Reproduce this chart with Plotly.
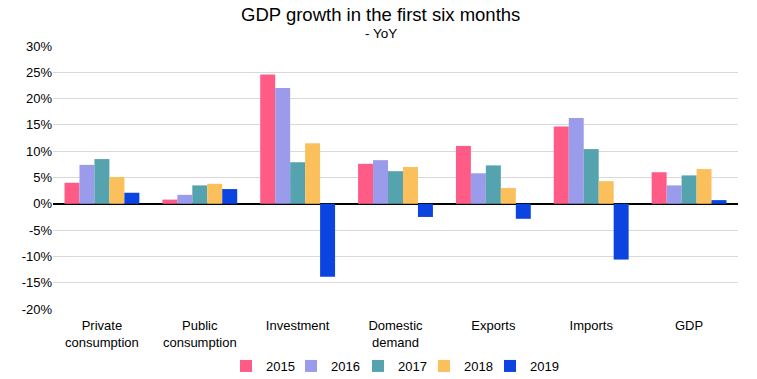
import plotly.graph_objects as go

categories = ["Private<br>consumption", "Public<br>consumption", "Investment",
              "Domestic<br>demand", "Exports", "Imports", "GDP"]
years = ["2015", "2016", "2017", "2018", "2019"]
v2015 = [4.0, 0.8, 24.6, 7.6, 11.0, 14.7, 6.0]
v2016 = [7.4, 1.7, 22.0, 8.3, 5.8, 16.3, 3.5]
v2017 = [8.5, 3.5, 7.9, 6.2, 7.3, 10.4, 5.4]
v2018 = [5.1, 3.8, 11.5, 7.0, 3.0, 4.3, 6.6]
v2019 = [2.1, 2.8, -13.85, -2.5, -2.85, -10.6, 0.7]
series = [v2015, v2016, v2017, v2018, v2019]
colors = ["#FF5B87", "#9B9BEB", "#55A3AE", "#FBBF5B", "#0B44E0"]
tickvals = [-20, -15, -10, -5, 0, 5, 10, 15, 20, 25, 30]
ticktext = [f"{t}%" for t in tickvals]

FONT = "Liberation Sans, Arial, sans-serif"
W, H = 757, 379
ML, MR, MT, MB = 53, 19, 46, 70
PH = H - MT - MB
PW = W - ML - MR


def py(pix):
    """pixel y from top of figure -> paper coordinate"""
    return 1 + (MT - pix) / PH


def px(pix):
    return (pix - ML) / PW


legend_lefts = [226, 291, 358, 424, 490]
legend_names = ["legend", "legend2", "legend3", "legend4", "legend5"]

fig = go.Figure()
for y, vals, c, ln in zip(years, series, colors, legend_names):
    fig.add_trace(go.Bar(name=y, x=categories, y=vals, marker_color=c,
                         marker_line_width=0, legend=ln))

layout_legends = {}
for ln, lx in zip(legend_names, legend_lefts):
    layout_legends[ln] = dict(
        orientation="h", x=lx / W, xref="container", xanchor="left",
        y=1 - 366 / H, yref="container", yanchor="middle",
        font=dict(size=13), itemwidth=30, bgcolor="rgba(0,0,0,0)")

fig.update_layout(
    width=W, height=H,
    margin=dict(l=ML, r=MR, t=MT, b=MB, autoexpand=False),
    paper_bgcolor="white", plot_bgcolor="white",
    barmode="group", bargap=0.235, bargroupgap=0,
    font=dict(family=FONT, size=13, color="#000000"),
    showlegend=True,
    annotations=[
        dict(text="GDP growth in the first six months", x=px(380.5), xref="paper",
             xanchor="center", y=py(14.8), yref="paper", yanchor="middle",
             showarrow=False, font=dict(size=18.5)),
        dict(text="- YoY", x=px(380.5), xref="paper", xanchor="center",
             y=py(33.3), yref="paper", yanchor="middle",
             showarrow=False, font=dict(size=13.5)),
    ],
    **layout_legends,
)

fig.update_yaxes(range=[-20, 30], tickvals=tickvals, ticktext=ticktext,
                 showgrid=True, gridcolor="#D9D9D9", gridwidth=1,
                 zeroline=True, zerolinecolor="#000000", zerolinewidth=2,
                 showline=False, ticks="", tickfont=dict(size=13),
                 automargin=False)
fig.update_xaxes(showgrid=False, showline=False, ticks="",
                 tickfont=dict(size=13), automargin=False,
                 ticklabelstandoff=7)

fig.write_html("out.html",
               config={"displayModeBar": False},
               post_script="document.body.style.margin='0';"
                           "document.body.style.padding='0';"
                           "document.body.style.overflow='hidden';")
